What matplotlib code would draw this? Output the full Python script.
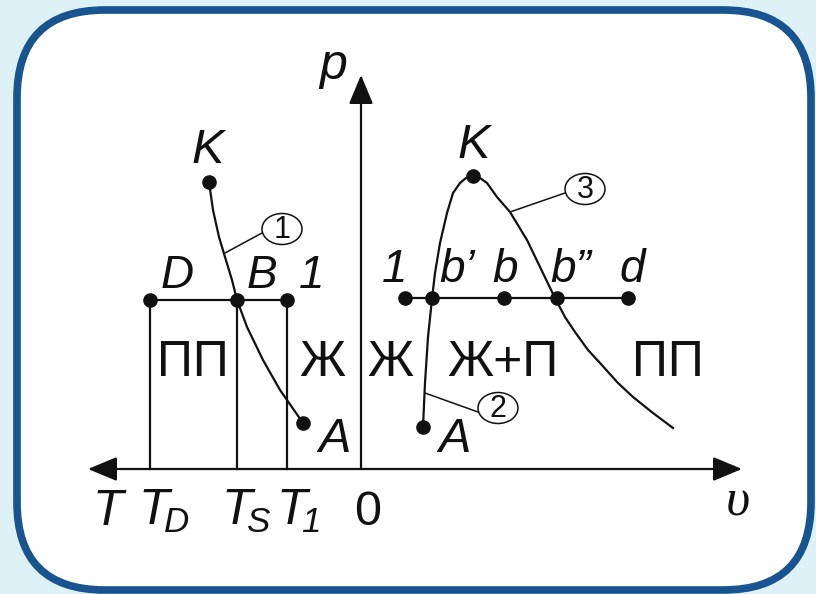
import matplotlib.pyplot as plt
from matplotlib.patches import FancyBboxPatch, Ellipse

plt.rcParams['font.family'] = ['Liberation Sans', 'DejaVu Sans']
# all math labels here are italic, digits in subscripts too
plt.rcParams['mathtext.fontset'] = 'custom'
plt.rcParams['mathtext.it'] = 'Liberation Sans:italic'
plt.rcParams['mathtext.rm'] = 'Liberation Sans:italic'

# melting curve K-B-A (left half, T axis)
melt_x = [209, 213, 219, 225, 232, 237, 247, 263, 280, 303]
melt_y = [182, 210, 237, 257, 280, 300, 327, 360, 390, 423]

# saturation dome A-b'-K-b''-end (right half, v axis)
dome_x = [423, 425, 428, 432, 435, 440, 447, 453, 460, 466, 473,
          480, 487, 497, 510, 527, 540, 555, 565, 575, 588, 600, 618, 633, 653, 673]
dome_y = [427, 383, 337, 299, 273, 243, 213, 193, 183, 178, 176,
          178, 183, 197, 212, 240, 267, 298, 317, 332, 350, 363, 383, 397, 413, 428]
apex = 10  # index of K in the dome

# isobar points
iso_y = 300
left_pts_x = [150, 237, 287]          # D, B, 1
right_pts_x = [405, 432, 504, 557, 628]  # 1, b', b, b'', d

axis_y = 469
axis_x0 = 361
tick_lbl = ['$T$', r'$T_{\!D}$', r'$T_{\!S}$', r'$T_{\!1}$', '0']
tick_x = [110, 164, 246, 298, 368]

regions = ['ПП', 'Ж', 'Ж', 'Ж+П', 'ПП']
region_x = [193, 322, 390, 503, 668]

fig = plt.figure(figsize=(8.16, 5.94), dpi=100)
fig.patch.set_facecolor('#ddf1f7')
ax = fig.add_axes([0, 0, 1, 1])
ax.set_xlim(0, 816)
ax.set_ylim(594, 0)
ax.axis('off')

frame = FancyBboxPatch((17, 10), 794, 580, boxstyle='round,pad=0,rounding_size=88',
                       facecolor='white', edgecolor='#175490', lw=5.5, zorder=0)
ax.add_patch(frame)

lw = 1.6
black = '#111111'

# axes with arrows
arr = dict(arrowstyle='-|>,head_length=1.8,head_width=0.75', mutation_scale=10,
           color=black, lw=lw, shrinkA=0, shrinkB=0)
ax.annotate('', xy=(742, axis_y), xytext=(axis_x0, axis_y), arrowprops=arr)
ax.annotate('', xy=(88, axis_y), xytext=(axis_x0, axis_y), arrowprops=arr)
ax.annotate('', xy=(axis_x0, 75), xytext=(axis_x0, axis_y), arrowprops=arr)

# isobars and temperature drops
ax.plot([left_pts_x[0], left_pts_x[-1]], [iso_y, iso_y], color=black, lw=lw)
ax.plot([right_pts_x[0], right_pts_x[-1]], [iso_y - 2, iso_y - 2], color=black, lw=lw)
for x in left_pts_x:
    ax.plot([x, x], [iso_y, axis_y], color=black, lw=lw)

ax.plot(melt_x, melt_y, color=black, lw=lw)
ax.plot(dome_x, dome_y, color=black, lw=lw)

ms = 9.5
ax.plot(left_pts_x, [iso_y] * 3, 'o', color=black, ms=ms)
ax.plot(right_pts_x, [iso_y - 2] * 5, 'o', color=black, ms=ms)
ax.plot([melt_x[0], melt_x[-1]], [melt_y[0], melt_y[-1]], 'o', color=black, ms=ms)
ax.plot([dome_x[0], dome_x[apex]], [dome_y[0], dome_y[apex]], 'o', color=black, ms=ms)

# numbered callouts
callouts = [('1', (225, 253), (282, 229)),
            ('2', (425, 393), (498, 408)),
            ('3', (510, 212), (585, 189))]
for num, (px, py), (cx, cy) in callouts:
    ax.plot([px, cx - 20], [py, cy + 4], color=black, lw=1.1)
    ax.add_patch(Ellipse((cx, cy), 40, 31, facecolor='white', edgecolor=black, lw=1.1))
    ax.text(cx, cy + 1, num, fontsize=22, ha='center', va='center', color=black)

it = dict(fontstyle='italic', color=black, ha='center', va='baseline')
ax.text(208, 163, 'K', fontsize=35, **it)
ax.text(474, 158, 'K', fontsize=35, **it)
for s, x in zip(['D', 'B', '1'], [177, 262, 312]):
    ax.text(x, 288, s, fontsize=33, **it)
for s, x in zip(['1', 'b’', 'b', 'b”', 'd'], [395, 457, 505, 571, 632]):
    ax.text(x, 282, s, fontsize=33, **it)
ax.text(335, 452, 'A', fontsize=35, **it)
ax.text(455, 452, 'A', fontsize=35, **it)

for s, x in zip(regions, region_x):
    ax.text(x, 376, s, fontsize=36, ha='center', va='baseline', color=black)

for s, x in zip(tick_lbl, tick_x):
    ax.text(x, 525, s, fontsize=36 if s != '0' else 35,
            ha='center', va='baseline', color=black)

ax.text(333, 79, 'p', fontsize=36, **it)
ax.text(738, 515, 'υ', fontsize=38, family='Liberation Serif', fontstyle='italic',
        ha='center', va='baseline', color=black)

fig.savefig('out.png', dpi=100, facecolor=fig.get_facecolor())
